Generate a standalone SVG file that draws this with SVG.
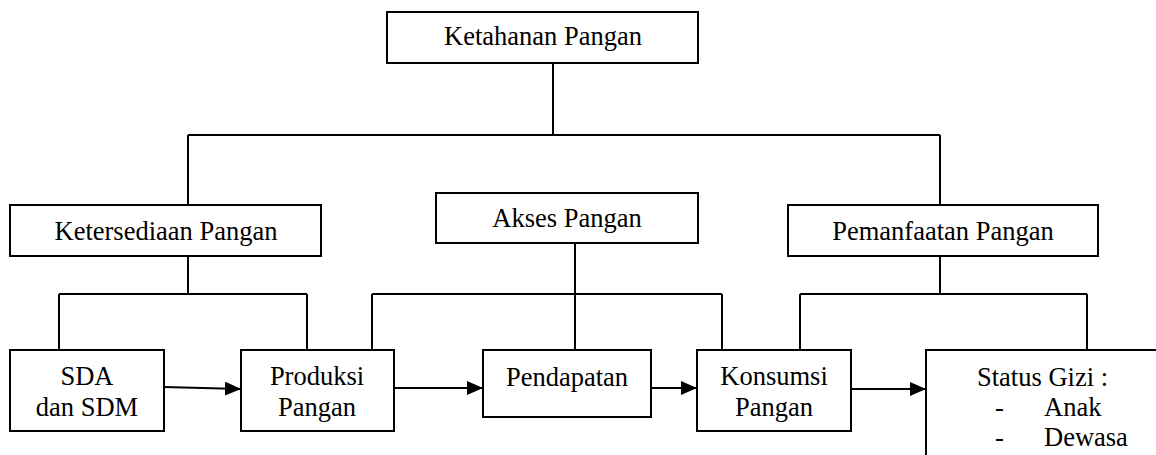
<svg xmlns="http://www.w3.org/2000/svg" width="1156" height="455" viewBox="0 0 1156 455">
<style>
.box{fill:#fff;stroke:#000;stroke-width:2}
.ln{fill:none;stroke:#000;stroke-width:2}
.t{font-family:'Liberation Serif','DejaVu Serif',serif;font-size:26.5px;fill:#000}
.c{text-anchor:middle}
</style>
<defs>
<marker id="ah" markerWidth="16" markerHeight="14" refX="16" refY="7" orient="auto" markerUnits="userSpaceOnUse">
<path d="M0,0 L16,7 L0,14 Z" fill="#000"/>
</marker>
</defs>
<g id="connectors">
<path class="ln" d="M553,63 V135 M188,135 H940 M188,135 V205 M940,135 V205"/>
<path class="ln" d="M188,256 V294 M59,294 H307 M59,294 V350 M307,294 V350"/>
<path class="ln" d="M575,243 V350 M372,294 H722 M372,294 V350 M722,294 V350"/>
<path class="ln" d="M940,256 V294 M800,294 H1087 M800,294 V350 M1087,294 V350"/>
<line class="ln" x1="164" y1="387" x2="241" y2="389" marker-end="url(#ah)"/>
<line class="ln" x1="394" y1="388" x2="483" y2="388" marker-end="url(#ah)"/>
<line class="ln" x1="651" y1="388" x2="697" y2="388" marker-end="url(#ah)"/>
<line class="ln" x1="851" y1="389" x2="926" y2="389" marker-end="url(#ah)"/>
</g>
<g id="ketahanan">
<rect class="box" x="387" y="12" width="311" height="51"/>
<text class="t c" x="543" y="45">Ketahanan Pangan</text>
</g>
<g id="ketersediaan">
<rect class="box" x="10" y="205" width="311" height="51"/>
<text class="t c" x="166" y="240">Ketersediaan Pangan</text>
</g>
<g id="akses">
<rect class="box" x="436" y="193" width="262" height="50"/>
<text class="t c" x="567" y="227">Akses Pangan</text>
</g>
<g id="pemanfaatan">
<rect class="box" x="788" y="205" width="310" height="51"/>
<text class="t c" x="943" y="240">Pemanfaatan Pangan</text>
</g>
<g id="sda">
<rect class="box" x="10" y="350" width="154" height="81"/>
<text class="t c" x="87" y="385">SDA</text>
<text class="t c" x="87" y="416">dan SDM</text>
</g>
<g id="produksi">
<rect class="box" x="241" y="350" width="153" height="81"/>
<text class="t c" x="317" y="385">Produksi</text>
<text class="t c" x="317" y="416">Pangan</text>
</g>
<g id="pendapatan">
<rect class="box" x="483" y="350" width="168" height="67"/>
<text class="t c" x="567" y="386">Pendapatan</text>
</g>
<g id="konsumsi">
<rect class="box" x="697" y="350" width="154" height="81"/>
<text class="t c" x="774" y="385">Konsumsi</text>
<text class="t c" x="774" y="416">Pangan</text>
</g>
<g id="status">
<path class="ln" d="M926,456 V350 H1157"/>
<text class="t" x="977" y="386">Status Gizi :</text>
<text class="t" x="995" y="416">-</text>
<text class="t" x="1044" y="416">Anak</text>
<text class="t" x="995" y="446">-</text>
<text class="t" x="1044" y="446">Dewasa</text>
</g>
</svg>
